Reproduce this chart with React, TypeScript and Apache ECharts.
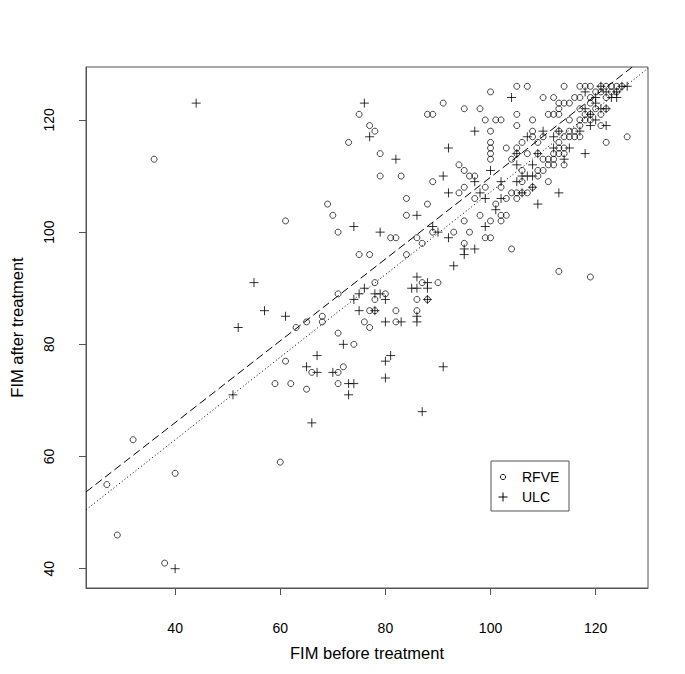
import React, { useEffect, useRef } from "react";
import * as echarts from "echarts";

// RFVE group (open circles): [FIM before, FIM after]
const rfvePoints: number[][] = [
  [27, 55], [29, 46], [32, 63], [36, 113], [38, 41], [40, 57], [60, 59], [61, 102], [61, 77], [59, 73],
  [62, 73], [63, 83], [65, 84], [65, 72], [66, 75], [68, 85], [68, 84], [69, 105], [70, 103], [71, 100],
  [71, 89], [71, 82], [71, 75], [71, 73], [72, 76], [73, 116], [74, 80], [75, 121], [75, 96], [77, 119],
  [77, 96], [76, 84], [77, 83], [77, 86], [78, 118], [78, 91], [78, 88], [78, 86], [79, 114], [79, 110],
  [80, 89], [81, 99], [82, 99], [82, 86], [82, 84], [83, 110], [84, 106], [84, 103], [84, 96], [86, 99],
  [86, 88], [86, 86], [87, 98], [87, 91], [88, 121], [88, 105], [88, 88], [89, 121], [89, 109], [89, 100],
  [90, 91], [91, 123], [93, 100], [94, 112], [94, 107], [95, 122], [95, 111], [95, 108], [95, 102], [95, 98],
  [96, 110], [96, 100], [97, 110], [97, 106], [98, 122], [98, 103], [99, 120], [99, 108], [99, 99], [100, 125],
  [100, 118], [100, 116], [100, 115], [100, 114], [100, 113], [100, 102], [100, 99], [101, 120], [101, 105], [102, 120],
  [102, 108], [102, 103], [102, 102], [103, 115], [103, 106], [103, 103], [104, 113], [104, 107], [104, 97], [105, 126],
  [105, 121], [105, 119], [105, 115], [105, 114], [105, 107], [105, 106], [106, 116], [106, 111], [106, 109], [106, 107],
  [107, 126], [107, 114], [107, 107], [108, 120], [108, 118], [108, 117], [108, 108], [109, 116], [109, 114], [109, 111],
  [109, 110], [110, 124], [110, 117], [110, 113], [110, 111], [111, 121], [111, 113], [111, 112], [111, 109], [112, 124],
  [112, 121], [112, 114], [112, 113], [112, 112], [113, 123], [113, 122], [113, 121], [113, 118], [113, 116], [113, 115],
  [113, 114], [113, 93], [114, 126], [114, 123], [114, 117], [114, 115], [114, 114], [114, 112], [115, 123], [115, 120],
  [115, 118], [115, 117], [116, 124], [116, 118], [116, 117], [117, 126], [117, 124], [117, 122], [117, 120], [117, 119],
  [117, 117], [118, 126], [118, 121], [118, 120], [119, 126], [119, 124], [119, 123], [119, 121], [119, 120], [119, 92],
  [120, 125], [120, 122], [121, 126], [121, 125], [121, 121], [121, 119], [122, 126], [122, 124], [122, 122], [122, 116],
  [123, 126], [123, 125], [124, 126], [124, 125], [125, 126], [126, 117],
];

// ULC group (plus signs): [FIM before, FIM after]
const ulcPoints: number[][] = [
  [40, 40], [44, 123], [51, 71], [52, 83], [55, 91], [57, 86], [61, 85], [65, 76], [66, 66], [67, 78],
  [67, 75], [70, 75], [72, 80], [73, 73], [73, 71], [74, 73], [74, 101], [74, 88], [75, 89], [75, 86],
  [76, 123], [76, 90], [77, 117], [78, 89], [78, 86], [79, 100], [79, 89], [80, 88], [80, 84], [80, 77],
  [80, 74], [81, 78], [82, 113], [83, 84], [85, 90], [86, 103], [86, 92], [86, 90], [86, 85], [86, 84],
  [87, 68], [88, 91], [88, 90], [88, 88], [89, 101], [90, 100], [91, 110], [91, 76], [92, 115], [92, 107],
  [92, 99], [93, 94], [95, 97], [95, 96], [97, 118], [97, 109], [97, 97], [98, 107], [99, 106], [99, 101],
  [100, 111], [101, 104], [102, 109], [102, 106], [104, 124], [105, 114], [105, 112], [105, 109], [106, 110], [106, 107],
  [107, 117], [107, 110], [108, 112], [108, 110], [108, 108], [109, 114], [109, 105], [110, 118], [112, 117], [112, 115],
  [113, 118], [113, 107], [114, 113], [115, 115], [117, 118], [118, 125], [118, 122], [118, 114], [119, 119], [119, 121],
  [120, 124], [120, 123], [120, 120], [121, 126], [121, 122], [122, 125], [122, 122], [122, 119], [123, 124], [124, 125],
  [124, 124], [125, 126], [126, 126],
];

// fitted lines (end points in data units)
const dashedLine: number[][] = [[23.04, 53.68], [126.97, 129.44]];
const dottedLine: number[][] = [[23.04, 50.5], [129.96, 129.2]];

const xTicks = [40, 60, 80, 100, 120];
const yTicks = [40, 60, 80, 100, 120];
const legendNames = ["RFVE", "ULC"];

const FONT = "'Liberation Sans', Arial, Helvetica, sans-serif";

export default function App() {
  const ref = useRef<HTMLDivElement>(null);
  useEffect(() => {
    if (!ref.current) return;
    const chart = echarts.init(ref.current, undefined, { renderer: "svg" });
    const axisCol = "#555";
    chart.setOption({
      animation: false,
      backgroundColor: "#fff",
      grid: {
        left: 86, top: 67, width: 562, height: 521,
        show: true, borderColor: axisCol, borderWidth: 1, backgroundColor: "transparent",
      },
      xAxis: {
        type: "value", min: 23.04, max: 129.96,
        name: "FIM before treatment", nameLocation: "middle", nameGap: 56,
        nameTextStyle: { fontFamily: FONT, fontSize: 16.5, color: "#000" },
        axisLine: { show: true, lineStyle: { color: axisCol } },
        axisTick: { show: true, length: 7, customValues: xTicks, lineStyle: { color: axisCol } },
        axisLabel: { customValues: xTicks, margin: 33, fontFamily: FONT, fontSize: 14, color: "#000" },
        splitLine: { show: false },
      },
      yAxis: {
        type: "value", min: 36.56, max: 129.44,
        name: "FIM after treatment", nameLocation: "middle", nameGap: 61, nameRotate: 90,
        nameTextStyle: { fontFamily: FONT, fontSize: 16.5, color: "#000" },
        axisLine: { show: true, lineStyle: { color: axisCol } },
        axisTick: { show: true, length: 7, customValues: yTicks, lineStyle: { color: axisCol } },
        axisLabel: { customValues: yTicks, rotate: 90, margin: 30, fontFamily: FONT, fontSize: 14, color: "#000" },
        splitLine: { show: false },
      },
      series: [
        {
          name: legendNames[0], type: "scatter", data: rfvePoints,
          symbol: "circle", symbolSize: 6,
          itemStyle: { color: "rgba(0,0,0,0)", borderColor: "#000", borderWidth: 0.9 },
          z: 3,
        },
        {
          name: legendNames[1], type: "scatter", data: ulcPoints,
          symbol: "path://M5,0L5,10M0,5L10,5", symbolSize: 9,
          itemStyle: { color: "rgba(0,0,0,0)", borderColor: "#000", borderWidth: 1 },
          z: 3,
        },
        {
          type: "line", data: dashedLine, symbol: "none",
          lineStyle: { color: "#000", width: 1, type: [8, 4] }, z: 2,
        },
        {
          type: "line", data: dottedLine, symbol: "none",
          lineStyle: { color: "#000", width: 1, type: [1, 2.5] }, z: 2,
        },
      ],
      graphic: [
        {
          type: "rect", shape: { x: 491, y: 461, width: 78, height: 50 },
          style: { fill: "#fff", stroke: axisCol, lineWidth: 1 }, z: 10,
        },
        {
          type: "circle", shape: { cx: 503, cy: 477, r: 2.6 },
          style: { fill: "none", stroke: "#000", lineWidth: 0.9 }, z: 11,
        },
        { type: "line", shape: { x1: 498.5, y1: 497, x2: 507.5, y2: 497 }, style: { stroke: "#000", lineWidth: 1 }, z: 11 },
        { type: "line", shape: { x1: 503, y1: 492.5, x2: 503, y2: 501.5 }, style: { stroke: "#000", lineWidth: 1 }, z: 11 },
        {
          type: "text", x: 522, y: 477, z: 11,
          style: { text: legendNames[0], font: `14px ${FONT}`, fill: "#000", verticalAlign: "middle", align: "left" },
        },
        {
          type: "text", x: 522, y: 497, z: 11,
          style: { text: legendNames[1], font: `14px ${FONT}`, fill: "#000", verticalAlign: "middle", align: "left" },
        },
      ],
    });
    return () => chart.dispose();
  }, []);
  return (
    <div
      ref={ref}
      style={{ position: "fixed", left: 0, top: 0, width: 685, height: 674, background: "#fff" }}
    />
  );
}
